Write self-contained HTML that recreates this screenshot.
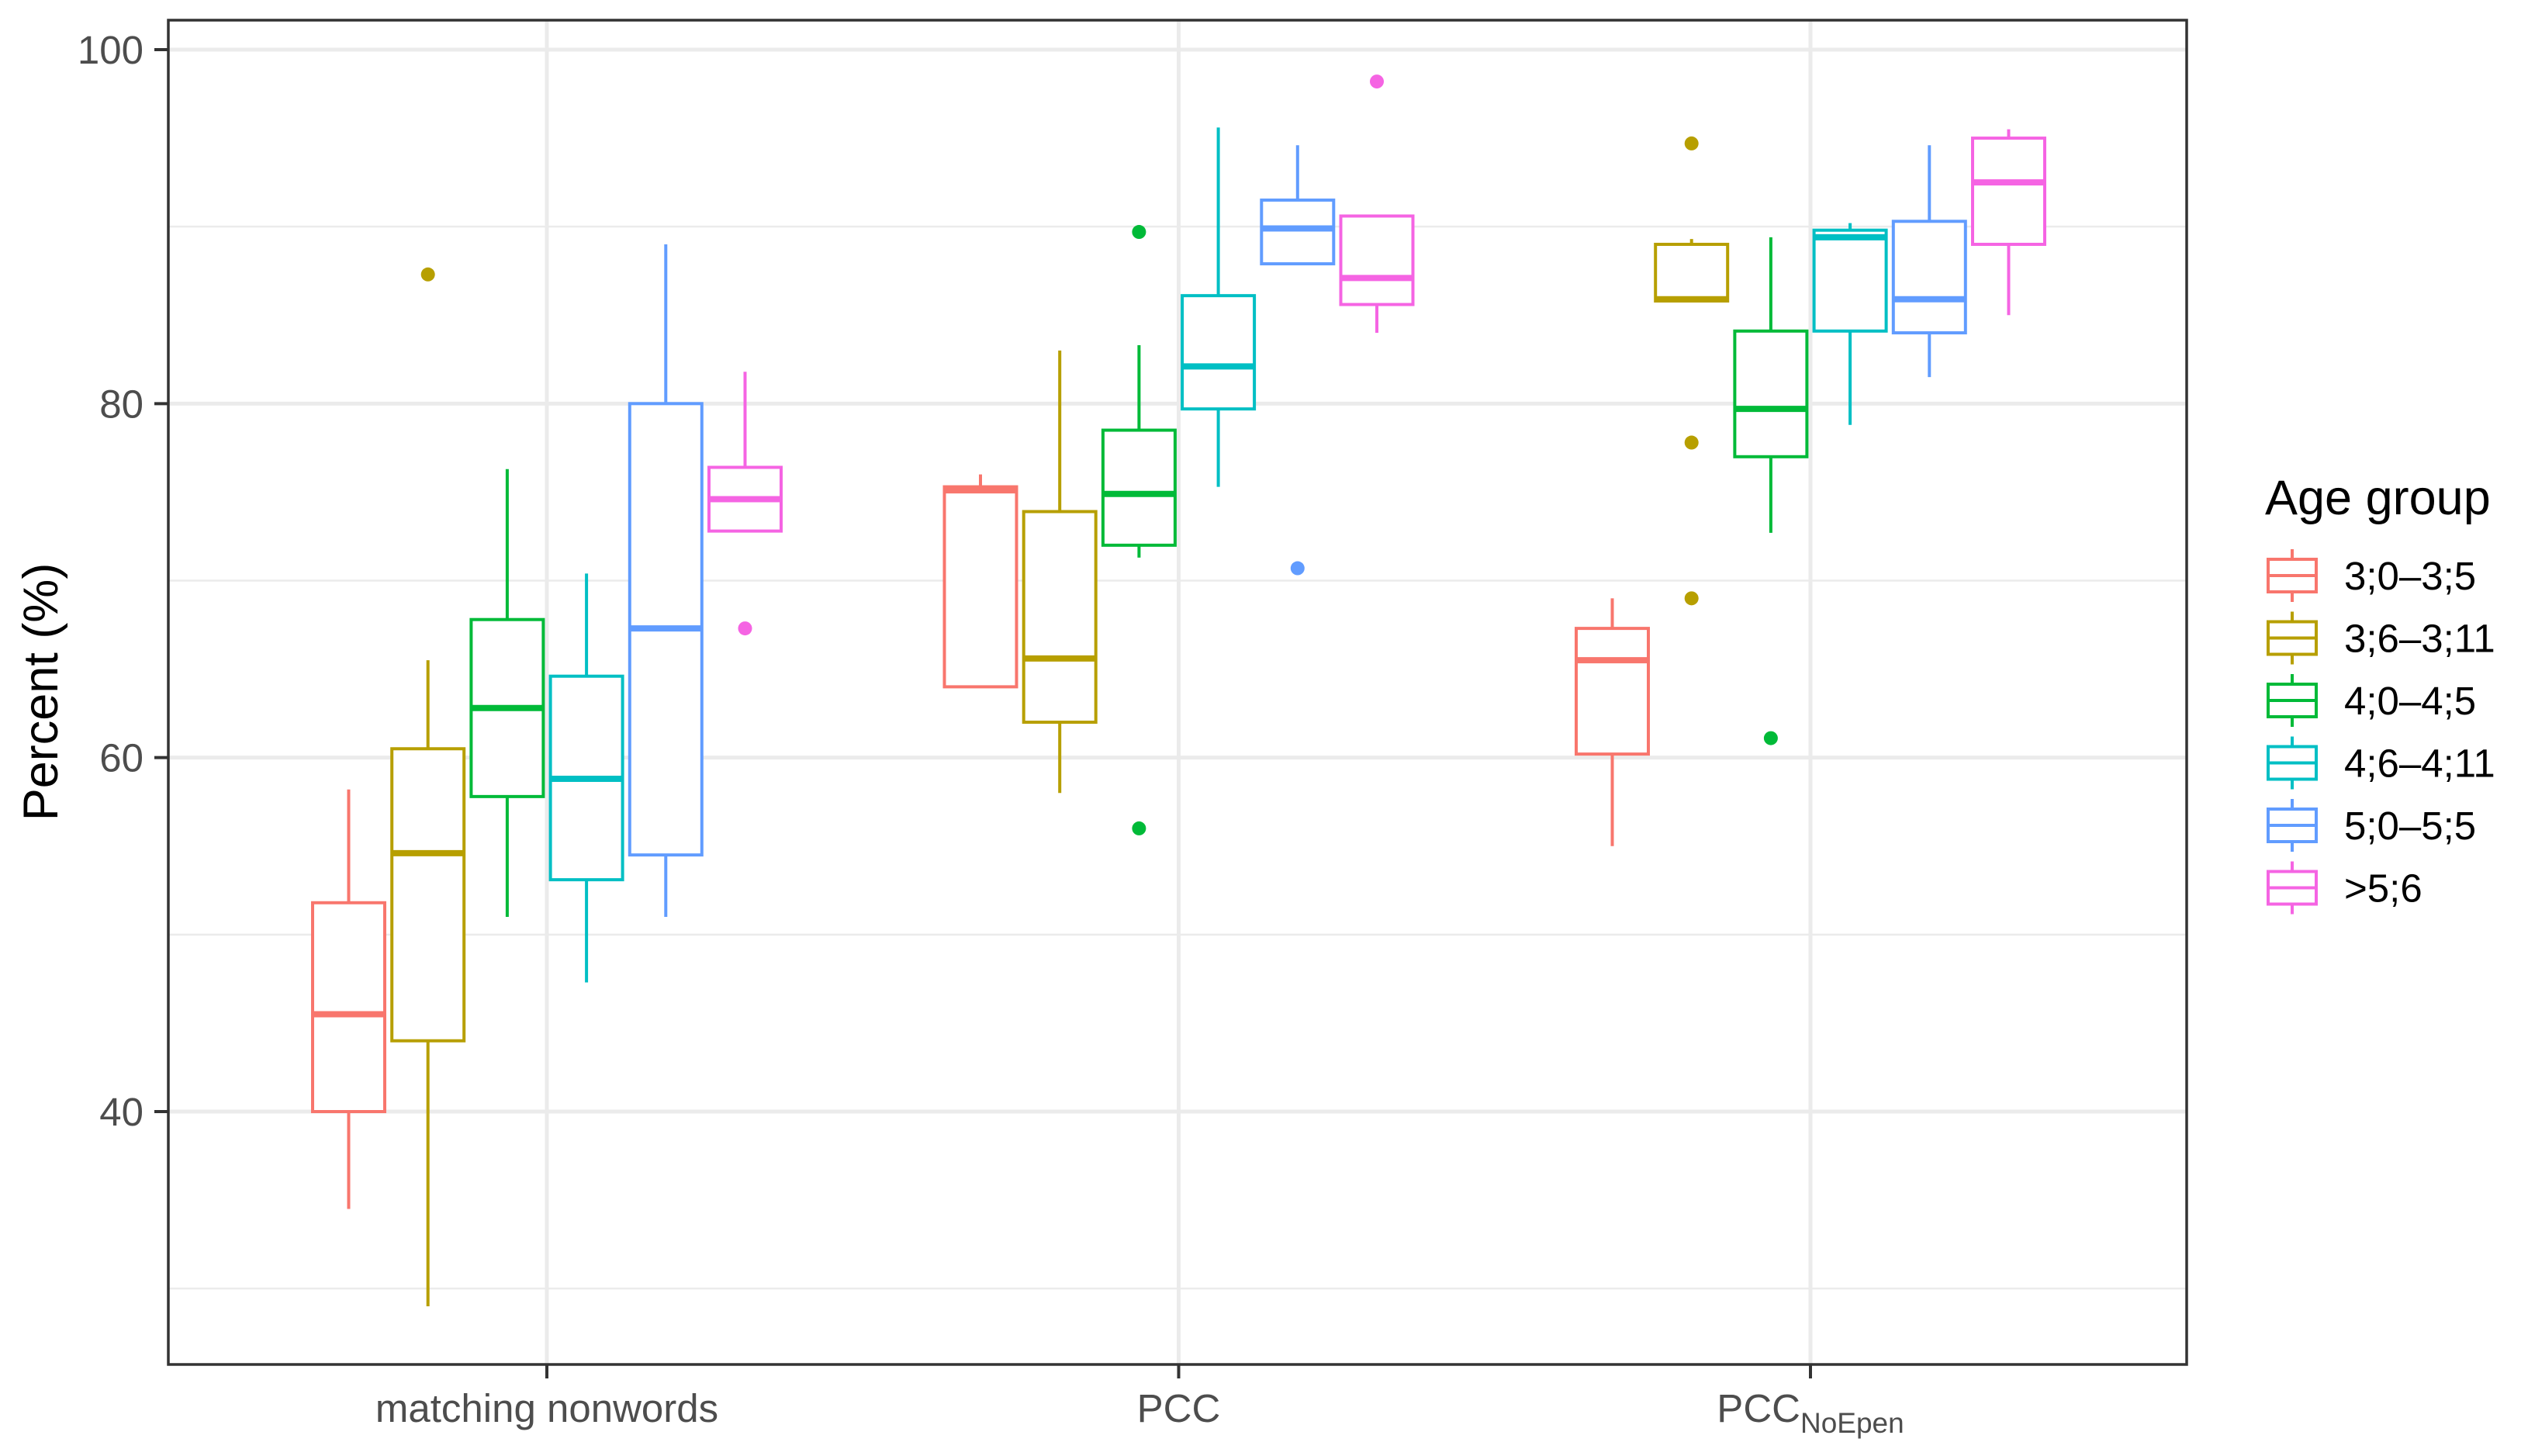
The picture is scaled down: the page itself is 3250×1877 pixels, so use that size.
<!DOCTYPE html>
<html><head><meta charset="utf-8"><style>
html,body{margin:0;padding:0;background:#fff;}
svg{display:block;font-family:"Liberation Sans",Arial,sans-serif;}
</style></head><body>
<svg id="chart" width="3250" height="1877" viewBox="0 0 3250 1877" xmlns="http://www.w3.org/2000/svg"></svg>
<script>
const categories = ["matching nonwords","PCC","PCC_NoEpen"];
const groups = ["3;0\u20133;5","3;6\u20133;11","4;0\u20134;5","4;6\u20134;11","5;0\u20135;5",">5;6"];
const colors = ["#F8766D","#B79F00","#00BA38","#00BFC4","#619CFF","#F564E3"];
// [lowWhisker, q1, median, q3, highWhisker] per category per group
const statsNonwords = [[34.5,40,45.5,51.8,58.2],[29,44,54.6,60.5,65.5],[51,57.8,62.8,67.8,76.3],[47.3,53.1,58.8,64.6,70.4],[51,54.5,67.3,80,89],[72.8,72.8,74.6,76.4,81.8]];
const statsPCC = [[64,64,75.1,75.3,76],[58,62,65.6,73.9,83],[71.3,72,74.9,78.5,83.3],[75.3,79.7,82.1,86.1,95.6],[87.9,87.9,89.9,91.5,94.6],[84,85.6,87.1,90.6,90.6]];
const statsNoEpen = [[55,60.2,65.5,67.3,69],[85.8,85.8,85.9,89,89.3],[72.7,77,79.7,84.1,89.4],[78.8,84.1,89.4,89.8,90.2],[81.5,84,85.9,90.3,94.6],[85,89,92.5,95,95.5]];
const outliersNonwords = [[],[87.3],[],[],[],[67.3]];
const outliersPCC = [[],[],[89.7,56],[],[70.7],[98.2]];
const outliersNoEpen = [[],[94.7,77.8,69],[61.1],[],[],[]];
const yTicks = [40,60,80,100];
const yMinor = [30,50,70,90];

const allStats=[statsNonwords,statsPCC,statsNoEpen];
const allOut=[outliersNonwords,outliersPCC,outliersNoEpen];
const svg=document.getElementById('chart');
const NS='http://www.w3.org/2000/svg';
const L=217,R=2819,T=26,B=1759;
const yScale=v=>64+(100-v)*(1369/60);
const xCat=i=>705+i*814.5;
const dodge=102.2, bw=93;
function el(tag,attrs,parent){const e=document.createElementNS(NS,tag);for(const k in attrs)e.setAttribute(k,attrs[k]);(parent||svg).appendChild(e);return e;}

const panel=el('rect',{x:L,y:T,width:R-L,height:B-T,fill:'#fff'});


yMinor.forEach(v=>{const g=el('line',{x1:L,x2:R,y1:yScale(v),y2:yScale(v),stroke:'#ebebeb','stroke-width':2.5});

});
yTicks.forEach(v=>{const g=el('line',{x1:L,x2:R,y1:yScale(v),y2:yScale(v),stroke:'#ebebeb','stroke-width':5});


const tk=el('line',{x1:L-18,x2:L,y1:yScale(v),y2:yScale(v),stroke:'#333','stroke-width':4});


const t=el('text',{x:L-32,y:yScale(v)+18,'text-anchor':'end','font-size':51,fill:'#4d4d4d'});t.textContent=v;

});
categories.forEach((c,i)=>{const g=el('line',{x1:xCat(i),x2:xCat(i),y1:T,y2:B,stroke:'#ebebeb','stroke-width':5});


const tk=el('line',{x1:xCat(i),x2:xCat(i),y1:B,y2:B+18,stroke:'#333','stroke-width':4});


const t=el('text',{x:xCat(i),y:B+74,'text-anchor':'middle','font-size':51,fill:'#4d4d4d'});


if(c==='PCC_NoEpen'){t.textContent='PCC';const s=document.createElementNS(NS,'tspan');s.setAttribute('font-size',37);s.setAttribute('dy',14);s.textContent='NoEpen';t.appendChild(s);}
else t.textContent=c;});

allStats.forEach((st,ci)=>{st.forEach((s,gi)=>{
 const cx=xCat(ci)+(gi-2.5)*dodge, col=colors[gi];
 const g=el('g',{});
 
 
 el('line',{x1:cx,x2:cx,y1:yScale(s[3]),y2:yScale(s[4]),stroke:col,'stroke-width':4},g);
 el('line',{x1:cx,x2:cx,y1:yScale(s[1]),y2:yScale(s[0]),stroke:col,'stroke-width':4},g);
 el('rect',{x:cx-bw/2,y:yScale(s[3]),width:bw,height:yScale(s[1])-yScale(s[3]),fill:'#fff',stroke:col,'stroke-width':4},g);
 el('line',{x1:cx-bw/2,x2:cx+bw/2,y1:yScale(s[2]),y2:yScale(s[2]),stroke:col,'stroke-width':8},g);
 allOut[ci][gi].forEach(o=>{const p=el('circle',{cx:cx,cy:yScale(o),r:9,fill:col},g);
 
 });
});});
const border=el('rect',{x:L,y:T,width:R-L,height:B-T,fill:'none',stroke:'#333','stroke-width':3.5});



const yt=el('text',{x:0,y:0,'font-size':63,fill:'#000','text-anchor':'middle',transform:'translate(74,892) rotate(-90)'});yt.textContent='Percent (%)';



const lt=el('text',{x:2920,y:663,'font-size':63,fill:'#000'});lt.textContent='Age group';


groups.forEach((gname,i)=>{const y=742+i*80.5,col=colors[i];
 const g=el('g',{});
 
 
 el('line',{x1:2955,x2:2955,y1:y-34,y2:y+34,stroke:col,'stroke-width':4},g);
 el('rect',{x:2924,y:y-21,width:62,height:42,fill:'#fff',stroke:col,'stroke-width':4},g);
 el('line',{x1:2924,x2:2986,y1:y,y2:y,stroke:col,'stroke-width':4},g);
 const t=el('text',{x:3022,y:y+18,'font-size':51,fill:'#000'},g);t.textContent=gname;
});
</script>
</body></html>
